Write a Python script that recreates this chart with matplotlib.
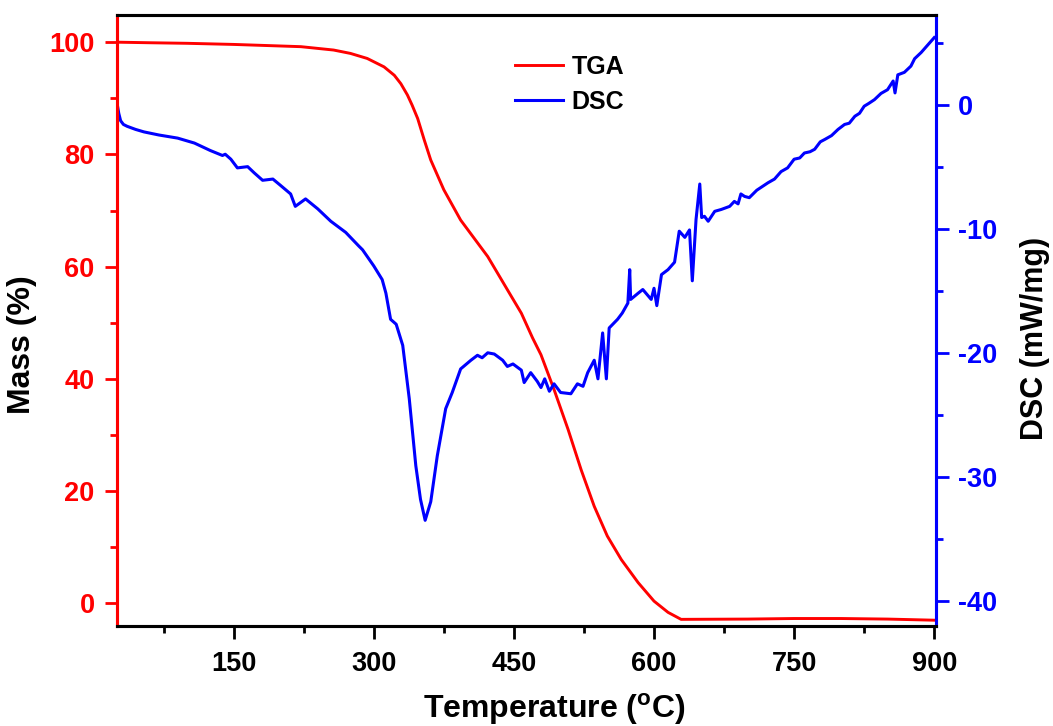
import numpy as np
import matplotlib
matplotlib.use('Agg')
from matplotlib import pyplot as plt
from matplotlib.ticker import MultipleLocator

# TGA curve (temperature in C, mass in %)
tga_t = [25, 60, 100, 150, 222, 257, 275, 293, 311, 322, 329, 336, 341, 347, 354,
         361, 375, 393, 422, 443, 458, 470, 479, 493, 508, 522, 536, 550, 565,
         583, 600, 615, 629, 700, 750, 800, 850, 900]
tga_m = [100, 99.9, 99.8, 99.6, 99.2, 98.6, 98.0, 97.1, 95.6, 94.1, 92.6, 90.6,
         88.8, 86.4, 82.6, 79.0, 73.7, 68.3, 61.8, 55.9, 51.7, 47.3, 44.3, 38.1,
         31.0, 23.8, 17.3, 12.0, 7.8, 3.7, 0.4, -1.6, -2.85, -2.8, -2.7, -2.7,
         -2.8, -3.0]

# DSC curve (temperature in C, heat flow in mW/mg)
dsc_t = [25, 27, 29, 32, 36, 45, 54, 70, 90, 108, 125, 138, 141, 147, 154, 165,
         172, 181, 192, 200, 211, 216, 227, 240, 254, 270, 284, 288, 300, 309,
         313, 318, 324, 331, 338, 345, 350, 355, 361, 368, 377, 384, 393, 404,
         411, 416, 422, 429, 438, 443, 449, 458, 461, 468, 475, 479, 483, 488,
         493, 500, 511, 518, 524, 529, 536, 540, 545, 549, 552, 561, 566, 572,
         574, 575, 583, 588, 597, 600, 603, 608, 615, 622, 627, 633, 638, 641,
         645, 649, 651, 654, 658, 665, 672, 681, 686, 690, 693, 697, 702, 710,
         716, 722, 729, 736, 743, 750, 756, 761, 767, 772, 778, 783, 790, 797,
         804, 809, 815, 820, 825, 830, 836, 843, 850, 856, 858, 861, 868, 875,
         879, 886, 893, 900]
dsc_v = [0.2, -0.7, -1.3, -1.6, -1.75, -2.0, -2.2, -2.45, -2.7, -3.1, -3.7,
         -4.1, -4.0, -4.4, -5.1, -5.0, -5.5, -6.1, -6.0, -6.5, -7.2, -8.2, -7.6,
         -8.4, -9.4, -10.3, -11.4, -11.7, -13.0, -14.1, -15.2, -17.3, -17.7,
         -19.4, -23.7, -29.1, -31.8, -33.5, -32.0, -28.3, -24.5, -23.2, -21.3,
         -20.6, -20.2, -20.4, -20.0, -20.1, -20.6, -21.1, -20.9, -21.4, -22.4,
         -21.6, -22.3, -22.8, -22.1, -23.1, -22.5, -23.2, -23.3, -22.5, -22.7,
         -21.6, -20.6, -22.1, -18.4, -22.1, -18.0, -17.3, -16.8, -16.0, -13.3,
         -15.7, -15.2, -14.9, -15.7, -14.8, -16.2, -13.7, -13.3, -12.7, -10.2,
         -10.7, -10.1, -14.2, -9.25, -6.4, -9.1, -9.0, -9.4, -8.6, -8.45, -8.2,
         -7.8, -8.0, -7.2, -7.4, -7.5, -6.9, -6.6, -6.3, -6.0, -5.4, -5.1, -4.4,
         -4.3, -3.9, -3.8, -3.6, -3.0, -2.8, -2.5, -2.0, -1.6, -1.5, -0.94,
         -0.7, -0.13, 0.1, 0.4, 0.9, 1.2, 1.9, 0.94, 2.4, 2.6, 3.1, 3.7, 4.2,
         4.8, 5.4]

plt.rcParams['font.family'] = ['Liberation Sans', 'DejaVu Sans']
plt.rcParams['font.weight'] = 'bold'
plt.rcParams['axes.unicode_minus'] = False
plt.rcParams['mathtext.fontset'] = 'custom'
plt.rcParams['mathtext.rm'] = 'Liberation Sans:bold'
plt.rcParams['mathtext.bf'] = 'Liberation Sans:bold'

fig = plt.figure(figsize=(10.53, 7.26), dpi=100)
ax = fig.add_axes([0.111, 0.138, 0.778, 0.841])
ax2 = ax.twinx()

l1, = ax.plot(tga_t, tga_m, color='#ff0000', lw=2.1, label='TGA')
l2, = ax2.plot(dsc_t, dsc_v, color='#0000ff', lw=2.2, label='DSC')

ax.set_xlim(25, 902)
ax.set_ylim(-4, 104.8)
ax2.set_ylim(-42, 7.2)

ax.xaxis.set_minor_locator(MultipleLocator(75))
ax.yaxis.set_major_locator(MultipleLocator(20))
ax.yaxis.set_minor_locator(MultipleLocator(10))
ax2.yaxis.set_major_locator(MultipleLocator(10))
ax2.yaxis.set_minor_locator(MultipleLocator(5))
ax.set_xticks([150, 300, 450, 600, 750, 900])

for a in (ax, ax2):
    for s in a.spines.values():
        s.set_linewidth(2.2)
    a.spines['left'].set_color('#ff0000')
    a.spines['right'].set_color('#0000ff')

ax.tick_params(axis='x', which='major', length=9, width=2.0, labelsize=19.5, pad=9)
ax.tick_params(axis='x', which='minor', length=5, width=2.0)
ax.tick_params(axis='y', which='major', length=9, width=2.0, colors='#ff0000',
               labelsize=19.5, pad=7)
ax.tick_params(axis='y', which='minor', length=5, width=2.0, colors='#ff0000')
ax2.tick_params(axis='y', which='major', length=9, width=2.0, colors='#0000ff',
                labelsize=19.5, pad=7)
ax2.tick_params(axis='y', which='minor', length=5, width=2.0, colors='#0000ff')

ax.set_xlabel(r'Temperature ($^{\mathrm{o}}$C)', fontsize=23, fontweight='bold')
ax.set_ylabel('Mass (%)', fontsize=23, fontweight='bold')
ax2.set_ylabel('DSC (mW/mg)', fontsize=22, fontweight='bold')
ax.xaxis.set_label_coords(0.534, -0.108)
ax.yaxis.set_label_coords(-0.097, 0.46)
ax2.yaxis.set_label_coords(1.102, 0.471)

ax.legend([l1, l2], ['TGA', 'DSC'], loc='upper left', bbox_to_anchor=(0.486, 0.935),
          frameon=False, handlelength=1.9, handletextpad=0.35, labelspacing=0.45,
          borderpad=0, borderaxespad=0, prop={'weight': 'bold', 'size': 18})

fig.savefig('out.png', dpi=100)
